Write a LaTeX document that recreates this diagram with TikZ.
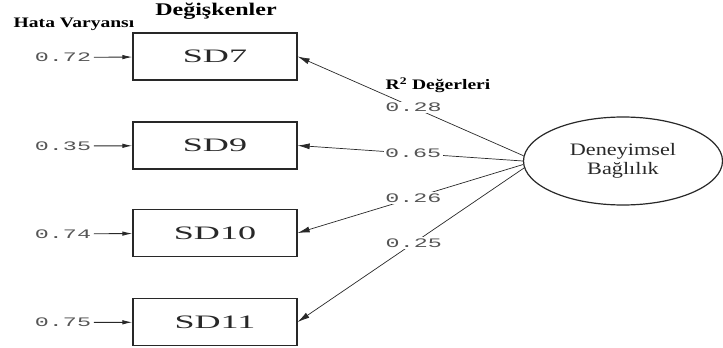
\documentclass[tikz,border=0pt]{standalone}
\usepackage{fontspec}
\usetikzlibrary{arrows.meta,shapes.geometric}
\newfontfamily\titlefont[FakeStretch=1.35,UprightFont=* Bold]{Liberation Serif}
\newfontfamily\boxfont[FakeStretch=1.9]{Liberation Serif}
\newfontfamily\latfont[FakeStretch=1.27]{Liberation Serif}
\newfontfamily\numfont[FakeStretch=1.8]{Liberation Mono}
\definecolor{ink}{RGB}{40,40,40}
\definecolor{numgray}{RGB}{85,85,85}
\tikzset{
  var/.style={draw=ink, line width=1.3pt, minimum width=164pt, minimum height=47pt,
    inner sep=0pt, text=ink, font=\boxfont\fontsize{19}{22}\selectfont},
  latent/.style={ellipse, draw=ink, line width=1.2pt, minimum width=199pt,
    minimum height=88pt, inner sep=0pt, align=center, text=ink,
    font=\latfont\fontsize{17.5}{19}\selectfont},
  num/.style={text=numgray, inner sep=2.5pt, font=\numfont\fontsize{13}{15}\selectfont},
  numw/.style={num, fill=white, inner sep=1.5pt},
  load/.style={draw=ink, line width=0.7pt, -{Latex[length=12pt,width=6pt]}},
  err/.style={draw=ink, line width=0.9pt, -{Latex[length=10pt,width=4.5pt]}},
  heading/.style={inner sep=0pt, text=black, font=\titlefont\fontsize{14.5}{16}\selectfont},
}
\begin{document}
\begin{tikzpicture}[x=1pt,y=-1pt]
\useasboundingbox (0,0) rectangle (723,348);

% column headings
\node[heading, font=\titlefont\fontsize{17.8}{19}\selectfont] (hvar) at (216,11.5) {Değişkenler};
\node[heading] (herr) at (74,24) {Hata Varyansı};
\node[heading] (hrsq) at (438,85) {R\textsuperscript{2} Değerleri};

% observed variables
\node[var] (sd7)  at (215,56.5) {SD7};
\node[var] (sd9)  at (215,145.5) {SD9};
\node[var] (sd10) at (215,233) {SD10};
\node[var] (sd11) at (215,322) {SD11};

% latent factor
\node[latent] (lat) at (623,161) {Deneyimsel\\Bağlılık};

% error variances
\node[num] (e7)  at (63,57.5)  {0.72};
\node[num] (e9)  at (63,146)   {0.35};
\node[num] (e10) at (63,234)   {0.74};
\node[num] (e11) at (63,322.5) {0.75};
\draw[err] (e7)  -- (sd7);
\draw[err] (e9)  -- (sd9);
\draw[err] (e10) -- (sd10);
\draw[err] (e11) -- (sd11);

% factor loadings with R^2 values
\draw[load] (lat.177.5) -- node[numw, pos=0.487] (r7)  {0.28} (sd7.east);
\draw[load] (lat.180.5) -- node[numw, pos=0.487] (r9)  {0.65} (sd9.east);
\draw[load] (lat.182.5) -- node[numw, pos=0.487] (r10) {0.26} (sd10.east);
\draw[load] (lat.184.5) -- node[numw, pos=0.487] (r11) {0.25} (sd11.east);
\end{tikzpicture}
\end{document}
